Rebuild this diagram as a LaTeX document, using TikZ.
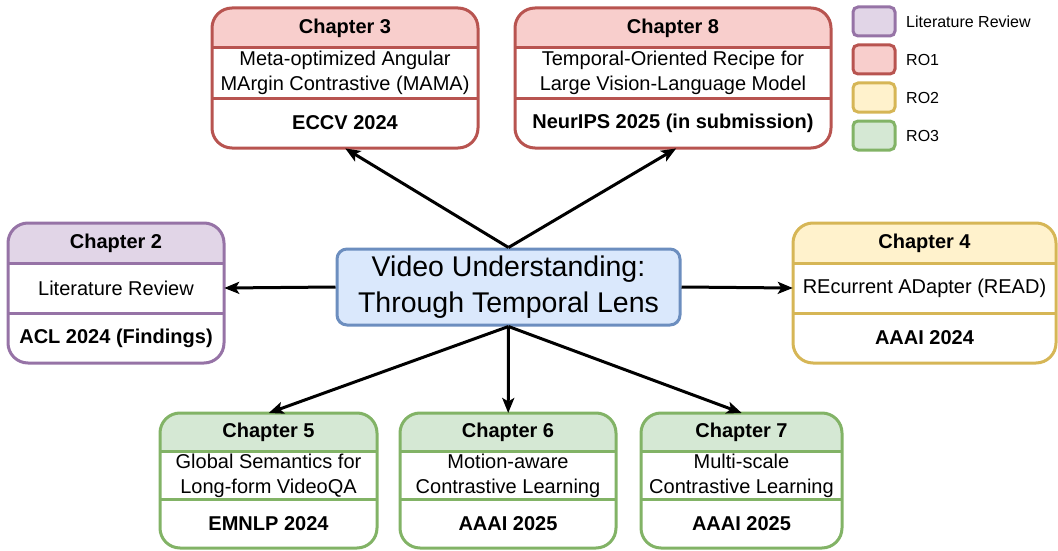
\documentclass[tikz,border=0pt]{standalone}
\usepackage{fontspec}
\setmainfont{Liberation Sans}
\usetikzlibrary{arrows.meta}
\definecolor{purF}{HTML}{E1D5E7}\definecolor{purL}{HTML}{9673A6}
\definecolor{redF}{HTML}{F8CECC}\definecolor{redL}{HTML}{B85450}
\definecolor{yelF}{HTML}{FFF2CC}\definecolor{yelL}{HTML}{D6B656}
\definecolor{grnF}{HTML}{D5E8D4}\definecolor{grnL}{HTML}{82B366}
\definecolor{bluF}{HTML}{DAE8FC}\definecolor{bluL}{HTML}{6C8EBF}
\tikzset{
  boxtext/.style={font=\fontsize{20}{25}\selectfont, align=center, inner sep=0pt},
  boldtext/.style={font=\fontsize{20}{25}\selectfont\bfseries, align=center, inner sep=0pt},
  legtext/.style={font=\fontsize{16}{19}\selectfont, anchor=west, inner sep=0pt},
  legbox/.style={line width=3pt, rounded corners=5pt, minimum width=42pt, minimum height=29pt, inner sep=0pt},
  arr/.style={line width=3pt, -{Stealth[length=15pt,width=12pt,inset=3.5pt]}},
}
% #1 name, #2 x1, #3 y1, #4 x2, #5 y2, #6 colour prefix, #7 title, #8 text, #9 venue
\newcommand{\chapbox}[9]{%
  \pgfmathsetmacro\hy{#3+(#5-#3)*0.2857}%
  \pgfmathsetmacro\my{#3+(#5-#3)*0.643}%
  \pgfmathsetmacro\cx{(#2+#4)/2}%
  \node[fill=white, rounded corners=20pt, inner sep=0pt, anchor=north west,
        minimum width=#4pt-#2pt, minimum height=#5pt-#3pt] (#1) at (#2,#3) {};
  \begin{scope}
    \clip[rounded corners=20pt] (#2,#3) rectangle (#4,#5);
    \fill[#6F] (#2,#3) rectangle (#4,\hy);
  \end{scope}
  \draw[#6L, line width=3pt] (#2,\hy) -- (#4,\hy) (#2,\my) -- (#4,\my);
  \draw[#6L, line width=3pt, rounded corners=20pt] (#2,#3) rectangle (#4,#5);
  \node[boldtext] (#1h) at (\cx,{(#3+\hy)/2}) {#7};
  \node[boxtext, minimum width=#4pt-#2pt] (#1t) at (\cx,{(\hy+\my)/2}) {#8};
  \node[boldtext] (#1v) at (\cx,{(\my+#5)/2}) {#9};
}
\begin{document}
\begin{tikzpicture}[x=1pt,y=-1pt]
\useasboundingbox (0,0) rectangle (1058,551);
% chapter boxes
\chapbox{ch3}{212}{8}{478}{148}{red}{Chapter 3}{Meta-optimized Angular\\MArgin Contrastive (MAMA)}{ECCV 2024}
\chapbox{ch8}{515}{8}{831}{148}{red}{Chapter 8}{Temporal-Oriented Recipe for\\Large Vision-Language Model}{NeurIPS 2025 (in submission)}
\chapbox{ch2}{8}{223}{224}{363}{pur}{Chapter 2}{Literature Review}{ACL 2024 (Findings)}
\chapbox{ch4}{793}{223}{1056}{363}{yel}{Chapter 4}{REcurrent ADapter (READ)}{AAAI 2024}
\chapbox{ch5}{160}{413}{377}{548}{grn}{Chapter 5}{Global Semantics for\\Long-form VideoQA}{EMNLP 2024}
\chapbox{ch6}{400}{413}{616}{548}{grn}{Chapter 6}{Motion-aware\\Contrastive Learning}{AAAI 2025}
\chapbox{ch7}{641}{413}{842}{548}{grn}{Chapter 7}{Multi-scale\\Contrastive Learning}{AAAI 2025}
% centre
\node[draw=bluL, fill=bluF, line width=3pt, rounded corners=10pt,
      minimum width=343pt, minimum height=76pt, inner sep=0pt,
      font=\fontsize{28.5}{36}\selectfont, align=center] (cen) at (508.5,287)
      {Video Understanding:\\Through Temporal Lens};
% arrows
\draw[arr] (cen.north) -- (ch3.south);
\draw[arr] (cen.north) -- ([xshift=3pt]ch8.south);
\draw[arr] (cen.west) -- (ch2t.east);
\draw[arr] (cen.east) -- (ch4t.west);
\draw[arr] (cen.south) -- (ch5.north);
\draw[arr] (cen.south) -- (ch6.north);
\draw[arr] (cen.south) -- (ch7.north);
% legend
\node[legbox, draw=purL, fill=purF] (lg1) at (874,21.5) {};
\node[legbox, draw=redL, fill=redF] (lg2) at (874,59.5) {};
\node[legbox, draw=yelL, fill=yelF] (lg3) at (874,97.5) {};
\node[legbox, draw=grnL, fill=grnF] (lg4) at (874,135.5) {};
\node[legtext] (lt1) at (906,21.5) {Literature Review};
\node[legtext] (lt2) at (906,59.5) {RO1};
\node[legtext] (lt3) at (906,97.5) {RO2};
\node[legtext] (lt4) at (906,135.5) {RO3};
\end{tikzpicture}
\end{document}
